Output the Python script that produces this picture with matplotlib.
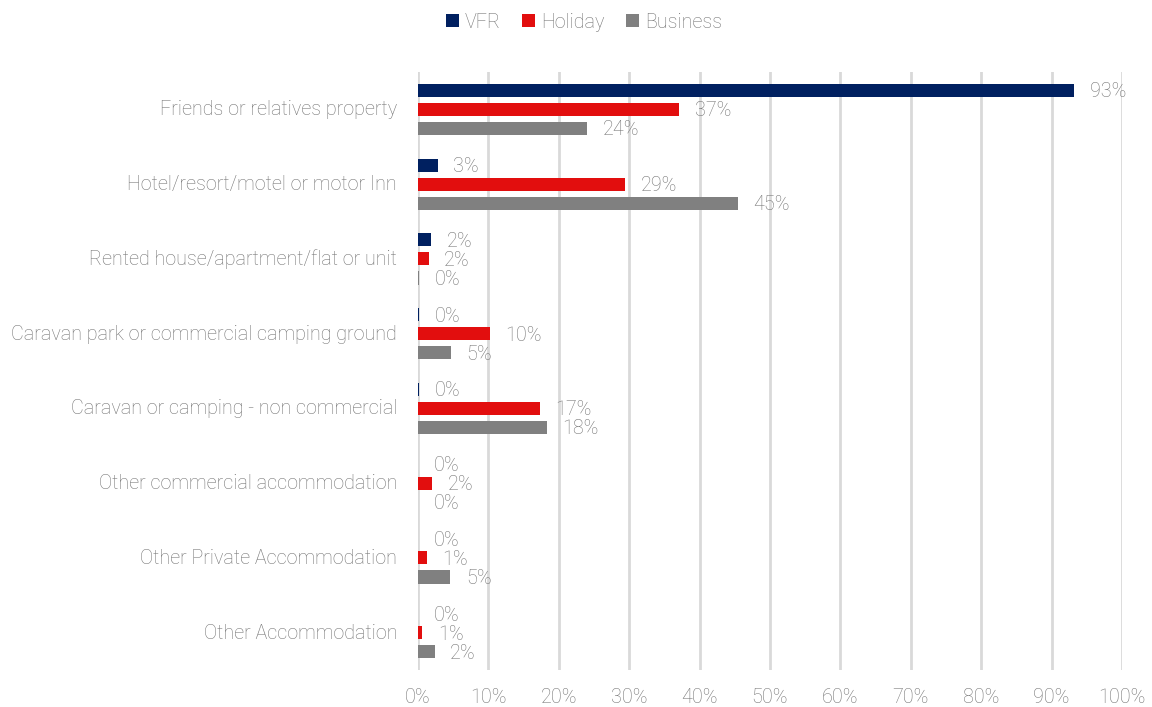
import matplotlib.pyplot as plt
import numpy as np

categories = [
    "Friends or relatives property",
    "Hotel/resort/motel or motor Inn",
    "Rented house/apartment/flat or unit",
    "Caravan park or commercial camping ground",
    "Caravan or camping - non commercial",
    "Other commercial accommodation",
    "Other Private Accommodation",
    "Other Accommodation",
]
series_names = ["VFR", "Holiday", "Business"]
vfr = [93.2, 2.8, 1.9, 0.2, 0.2, 0.0, 0.0, 0.0]
holiday = [37.1, 29.4, 1.5, 10.2, 17.3, 2.0, 1.3, 0.6]
business = [24.0, 45.4, 0.2, 4.7, 18.3, 0.0, 4.6, 2.4]
colors = ["#002060", "#e20e0e", "#808080"]
ticks = list(range(0, 101, 10))

txt = "#737373"
fs = 14.2
plt.rcParams['font.family'] = ['Roboto', 'DejaVu Sans']
plt.rcParams['font.weight'] = 'light'

fig = plt.figure(figsize=(11.52, 7.07), dpi=100)
ax = fig.add_axes([0.3628, 0.0523, 0.6111, 0.8458])

y = np.arange(len(categories))
h = 0.175
off = 0.255
for i, (vals, name, c) in enumerate(zip([vfr, holiday, business], series_names, colors)):
    pos = y + (i - 1) * off
    ax.barh(pos, vals, height=h, color=c, label=name, zorder=3)
    for p, v in zip(pos, vals):
        ax.text(v + 2.2, p + 0.02, f"{round(v):.0f}%", va='center', ha='left',
                fontsize=fs, color=txt, fontweight='light')

ax.set_ylim(len(categories) - 0.5, -0.5)
ax.set_xlim(0, 100)
ax.set_yticks(y - 0.02)
ax.set_yticklabels(categories, fontsize=fs, color=txt, fontweight='light')
ax.set_xticks(ticks)
ax.set_xticklabels([f"{t}%" for t in ticks], fontsize=fs, color=txt, fontweight='light')
ax.tick_params(axis='both', length=0)
ax.tick_params(axis='x', pad=13)
ax.tick_params(axis='y', pad=15)
ax.grid(axis='x', color='#d9d9d9', linewidth=2, zorder=0)
for s in ax.spines.values():
    s.set_visible(False)

leg = fig.legend(loc='upper center', bbox_to_anchor=(0.507, 1.007), ncol=3, frameon=False,
                 fontsize=fs, handlelength=0.65, handleheight=0.65, handletextpad=0.3,
                 columnspacing=1.1)
for t in leg.get_texts():
    t.set_color(txt)

fig.savefig("out.png", dpi=100)
